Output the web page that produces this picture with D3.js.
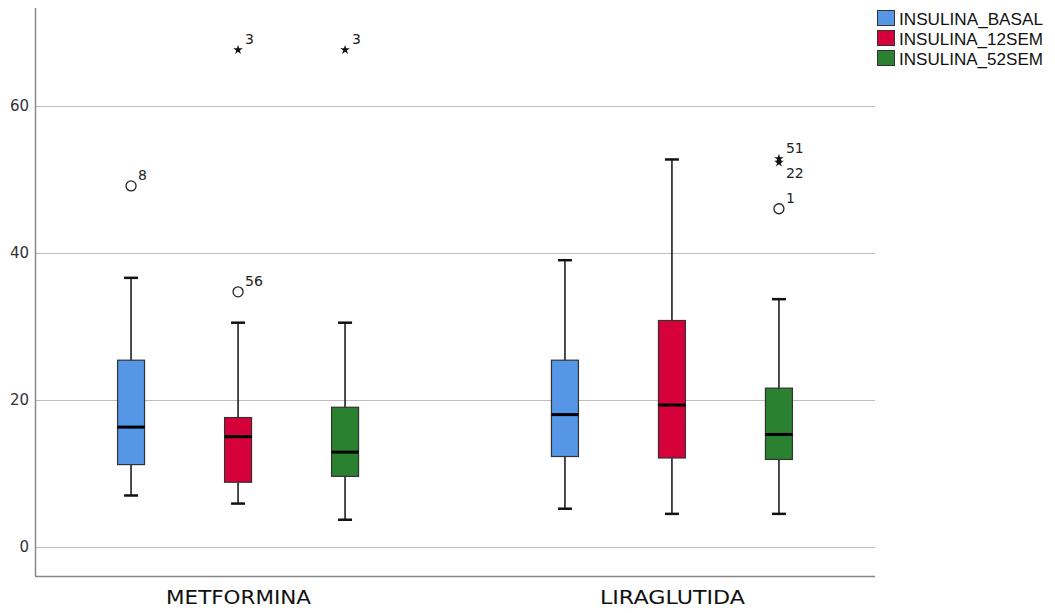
<!DOCTYPE html>
<html><head><meta charset="utf-8">
<script src="https://cdn.jsdelivr.net/npm/d3@7"></script>
<style>body{margin:0;background:#fff}svg{display:block}text{font-family:"Liberation Sans",Arial,sans-serif}</style>
</head><body><svg id="c" width="1055" height="613"></svg>
<script>
const groups = ["METFORMINA", "LIRAGLUTIDA"];
const series = ["INSULINA_BASAL", "INSULINA_12SEM", "INSULINA_52SEM"];
const colors = ["#5596E6", "#D6003A", "#2A8130"];
const yTicks = [0, 20, 40, 60];
// [group][series] : [low whisker, Q1, median, Q3, high whisker]
const boxStats = [
  [[7.0, 11.2, 16.3, 25.4, 36.6], [5.9, 8.8, 15.0, 17.6, 30.5], [3.7, 9.6, 12.9, 19.0, 30.5]],
  [[5.2, 12.3, 18.0, 25.4, 39.0], [4.5, 12.1, 19.3, 30.8, 52.7], [4.5, 11.9, 15.3, 21.6, 33.7]]
];
// outliers: group, series, value, type, label
const outGroup = [0, 0, 0, 0, 1, 1, 1];
const outSeries = [0, 1, 1, 2, 2, 2, 2];
const outValue = [49.1, 34.7, 67.6, 67.6, 52.8, 52.3, 46.0];
const outType = ["o", "o", "*", "*", "*", "*", "o"];
const outLabel = ["8", "56", "3", "3", "51", "22", "1"];

const svg = d3.select("#c");
const L = 35, R = 875, T = 8, B = 576;
const y = d3.scaleLinear().domain([-3.95, 73.3]).range([B, T]);
const xg = d3.scalePoint().domain(groups).range([L, R]).padding(0.468);
const xs = d3.scalePoint().domain(series).range([-107, 107]);
const bw = 27;

// grid
svg.append("g").selectAll("line").data(yTicks).join("line")
  .attr("x1", L).attr("x2", R).attr("y1", d => Math.round(y(d)) + 0.5).attr("y2", d => Math.round(y(d)) + 0.5)
  .attr("stroke", "#bdbdbd").attr("stroke-width", 1);

// y axis
const ya = svg.append("g").attr("transform", `translate(${L},0)`)
  .call(d3.axisLeft(y).tickValues(yTicks).tickSize(0).tickPadding(6));
ya.select(".domain").remove();
ya.selectAll("text").attr("font-size", 15).attr("fill", "#333").style("font-family", "'DejaVu Sans',sans-serif");
svg.append("line").attr("x1", L + 0.5).attr("x2", L + 0.5).attr("y1", T).attr("y2", B).attr("stroke", "#888").attr("stroke-width", 1.5);
svg.append("line").attr("x1", L).attr("x2", R).attr("y1", B + 0.5).attr("y2", B + 0.5).attr("stroke", "#888").attr("stroke-width", 1.5);

// x labels
const xa = svg.append("g").attr("transform", `translate(0,${B})`)
  .call(d3.axisBottom(xg).tickSize(0));
xa.select(".domain").remove();
xa.selectAll("text").attr("y", 28).attr("dy", 0).attr("font-size", 19.5).attr("fill", "#111")
  .style("font-family", "'DejaVu Sans',sans-serif")
  .attr("textLength", 145).attr("lengthAdjust", "spacingAndGlyphs");

// boxes
const boxes = [];
groups.forEach((g, gi) => series.forEach((s, si) => boxes.push({g, s, si, st: boxStats[gi][si]})));
const bg = svg.append("g").selectAll("g").data(boxes).join("g")
  .attr("transform", d => `translate(${xg(d.g) + xs(d.s)},0)`);
bg.append("line").attr("x1", 0).attr("x2", 0).attr("y1", d => y(d.st[0])).attr("y2", d => y(d.st[4]))
  .attr("stroke", "#111").attr("stroke-width", 1.5);
bg.append("line").attr("x1", -7).attr("x2", 7).attr("y1", d => y(d.st[0])).attr("y2", d => y(d.st[0]))
  .attr("stroke", "#111").attr("stroke-width", 2.5);
bg.append("line").attr("x1", -7).attr("x2", 7).attr("y1", d => y(d.st[4])).attr("y2", d => y(d.st[4]))
  .attr("stroke", "#111").attr("stroke-width", 2.5);
bg.append("rect").attr("x", -bw / 2).attr("width", bw)
  .attr("y", d => y(d.st[3])).attr("height", d => y(d.st[1]) - y(d.st[3]))
  .attr("fill", d => colors[d.si]).attr("stroke", "#333").attr("stroke-width", 1.2);
bg.append("line").attr("x1", -bw / 2).attr("x2", bw / 2).attr("y1", d => y(d.st[2])).attr("y2", d => y(d.st[2]))
  .attr("stroke", "#000").attr("stroke-width", 3);

// outliers
const outs = outValue.map((v, i) => ({v, t: outType[i], lab: outLabel[i], x: xg(groups[outGroup[i]]) + xs(series[outSeries[i]])}));
const og = svg.append("g");
outs.forEach((o, i) => {
  const cy = y(o.v);
  if (o.t === "o") {
    og.append("circle").attr("cx", o.x).attr("cy", cy).attr("r", 5).attr("fill", "none").attr("stroke", "#222").attr("stroke-width", 1.3);
  } else {
    og.append("path").attr("d", d3.symbol(d3.symbolStar, 28)()).attr("transform", `translate(${o.x},${cy})`).attr("fill", "#111");
  }
  const dy = o.lab === "22" ? 16 : -6;
  og.append("text").attr("x", o.x + 7).attr("y", cy + dy).attr("font-size", 14).attr("fill", "#222").text(o.lab)
    .style("font-family", "'DejaVu Sans',sans-serif");
});

// legend
const lg = svg.append("g").attr("transform", "translate(877,8)");
const li = lg.selectAll("g").data(series).join("g").attr("transform", (d, i) => `translate(0,${i * 20})`);
li.append("rect").attr("x", 0.5).attr("y", 2.5).attr("width", 17).attr("height", 15).attr("fill", (d, i) => colors[i]).attr("stroke", "#333").attr("stroke-width", 1);
li.append("text").attr("x", 22).attr("y", 16.5).attr("font-size", 17).attr("fill", "#111").text(d => d)
  .style("font-family", "'Liberation Sans Narrow','Liberation Sans',Arial,sans-serif")
  .attr("textLength", 144).attr("lengthAdjust", "spacingAndGlyphs");
</script></body></html>
